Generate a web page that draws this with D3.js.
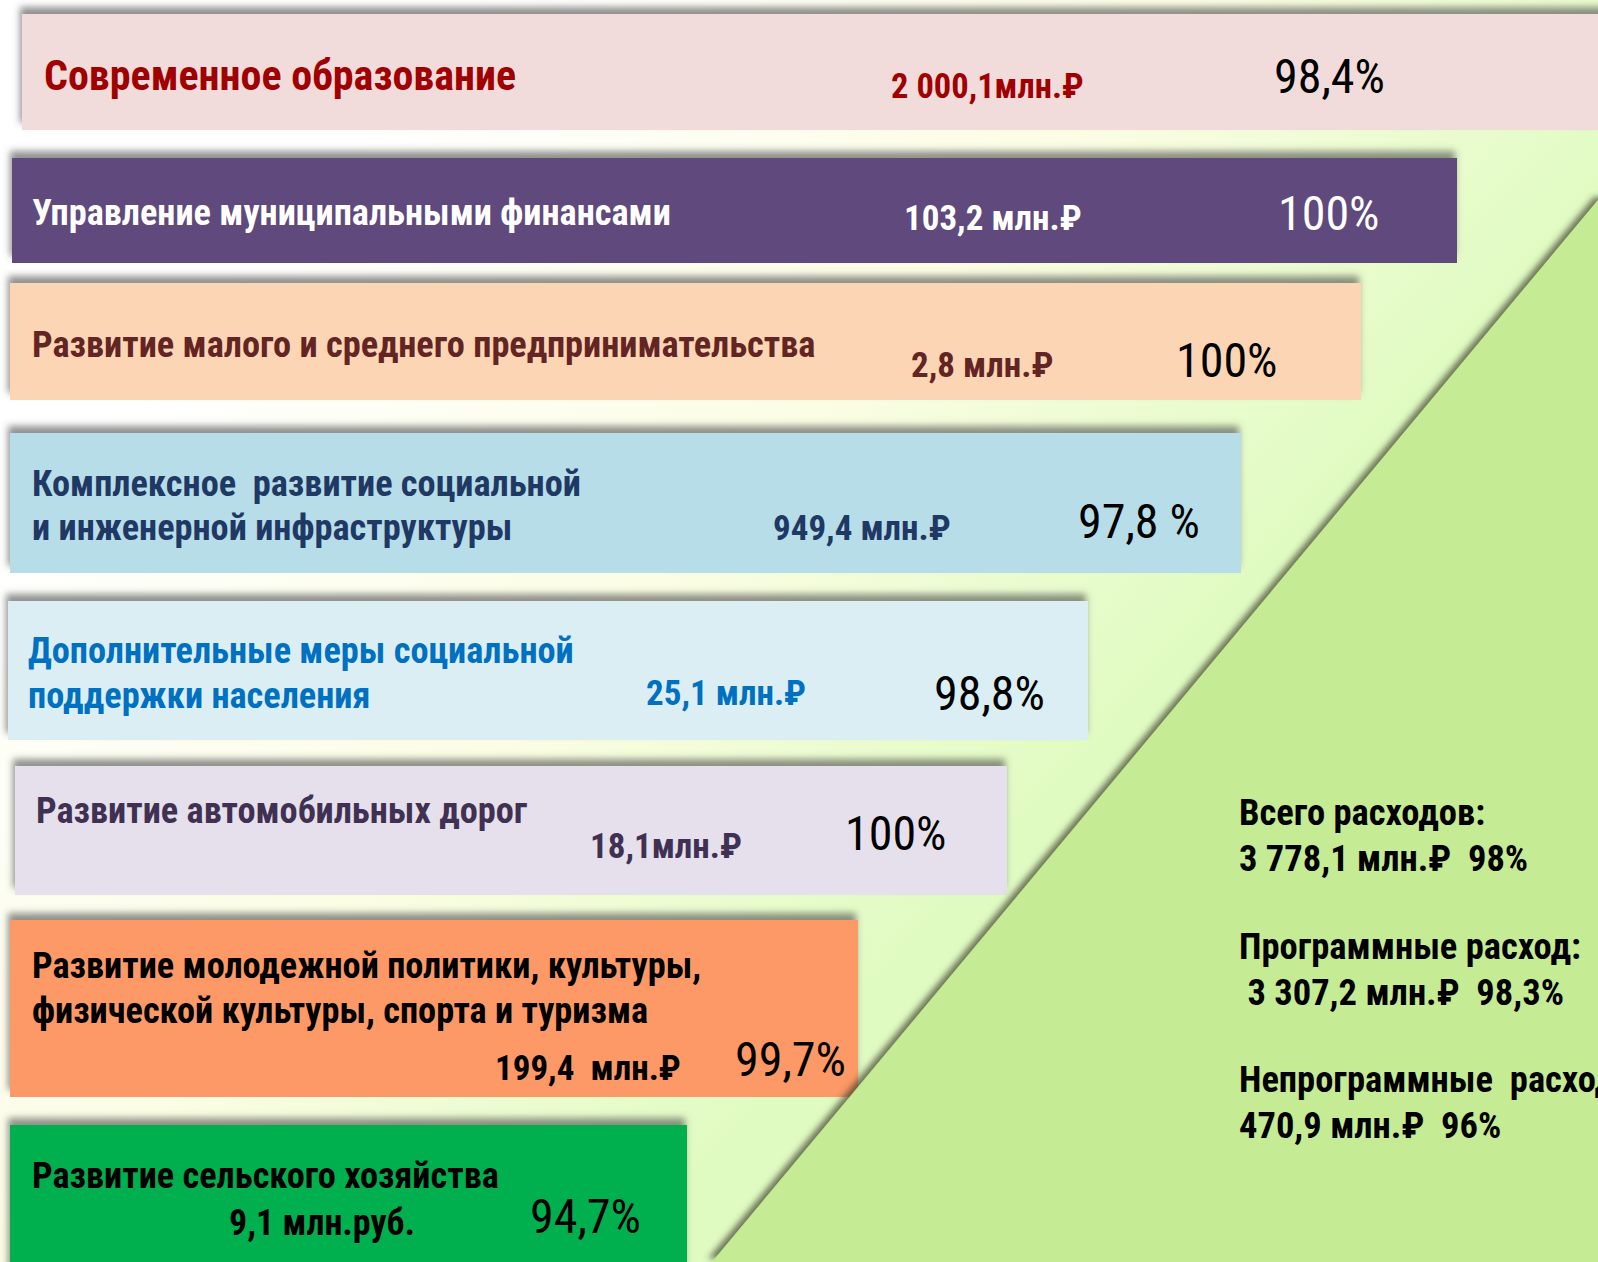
<!DOCTYPE html>
<html lang="ru">
<head>
<meta charset="utf-8">
<script src="https://cdn.jsdelivr.net/npm/d3@7"></script>
<style>
  html, body { margin: 0; padding: 0; background: #fff; overflow: hidden; }
  svg { display: block; }
  text { white-space: pre; }
</style>
</head>
<body>
<div id="chart"></div>
<script>
// programmes, amounts (mln rub) and execution (%)
const programs = [
    ["Современное образование"],
    ["Управление муниципальными финансами"],
    ["Развитие малого и среднего предпринимательства"],
    ["Комплексное  развитие социальной", "и инженерной инфраструктуры"],
    ["Дополнительные меры социальной", "поддержки населения"],
    ["Развитие автомобильных дорог"],
    ["Развитие молодежной политики, культуры,", "физической культуры, спорта и туризма"],
    ["Развитие сельского хозяйства"]
];
const amounts = [2000.1, 103.2, 2.8, 949.4, 25.1, 18.1, 199.4, 9.1];
const amountUnits = ["млн.₽", " млн.₽", " млн.₽", " млн.₽", " млн.₽", "млн.₽", "  млн.₽", " млн.руб."];
const execution = [98.4, 100, 100, 97.8, 98.8, 100, 99.7, 94.7];
const pctSuffix = ["%", "%", "%", " %", "%", "%", "%", "%"];

// totals block
const summaryTitles = ["Всего расходов:", "Программные расход:", "Непрограммные  расходы:"];
const summaryAmounts = [3778.1, 3307.2, 470.9];
const summaryPcts = [98, 98.3, 96];
const summaryIndent = ["", " ", ""];

// look of each bar (colours + layout of the funnel)
const fills = ["#f2dcdb", "#604a7b", "#fcd5b5", "#b7dde8", "#dbeef4", "#e5e0ec", "#fd9966", "#00b050"];
const inks = ["#a00000", "#ffffff", "#632523", "#1f3864", "#0070c0", "#403152", "#000000", "#000000"];
const pctInks = ["#000", "#fff", "#000", "#000", "#000", "#000", "#000", "#000"];
const layout = [
    { box: [22, 14, 1640, 130],  lx: 44, lb: [90],        ax: 891, ab: 98,   px: 1274, pb: 93,   ls: 42,   as: 34.5 },
    { box: [12, 158, 1457, 263], lx: 32, lb: [225],       ax: 904, ab: 230,  px: 1278, pb: 230,  ls: 36.3, as: 35 },
    { box: [10, 283, 1361, 400], lx: 32, lb: [357],       ax: 911, ab: 377,  px: 1176, pb: 377,  ls: 36.3, as: 35 },
    { box: [10, 433, 1241, 573], lx: 32, lb: [496, 540],  ax: 773, ab: 540,  px: 1078, pb: 538,  ls: 36.3, as: 35 },
    { box: [8, 601, 1088, 740],  lx: 28, lb: [663, 708],  ax: 646, ab: 705,  px: 934,  pb: 710,  ls: 36.3, as: 35 },
    { box: [15, 766, 1007, 895], lx: 36, lb: [823],       ax: 590, ab: 858,  px: 845,  pb: 850,  ls: 36.3, as: 35 },
    { box: [10, 920, 858, 1097], lx: 32, lb: [978, 1023], ax: 495, ab: 1080, px: 735,  pb: 1076, ls: 36.3, as: 35 },
    { box: [10, 1125, 687, 1290], lx: 32, lb: [1188],     ax: 229, ab: 1235, px: 530,  pb: 1233, ls: 36.3, as: 36 }
];

const width = 1598, height = 1262;
const FONT = "'Liberation Sans Narrow', 'Arial Narrow', 'Roboto Condensed', sans-serif";

const ru = d3.formatLocale({ decimal: ",", thousands: "\u00a0", grouping: [3], currency: ["", "₽"] });
const fmtAmount = ru.format(",.1f");
const fmtPct = ru.format(",.1~f");

const svg = d3.select("#chart").append("svg")
    .attr("width", width)
    .attr("height", height);

const defs = svg.append("defs");

const bg = defs.append("linearGradient")
    .attr("id", "bg")
    .attr("gradientUnits", "userSpaceOnUse")
    .attr("x1", 250).attr("y1", 250).attr("x2", 950).attr("y2", 900);
bg.append("stop").attr("offset", 0).attr("stop-color", "#ffffff");
bg.append("stop").attr("offset", 0.55).attr("stop-color", "#fbfde4");
bg.append("stop").attr("offset", 1).attr("stop-color", "#e0fbc2");

defs.append("filter")
    .attr("id", "barShadow")
    .attr("x", "-5%").attr("y", "-30%").attr("width", "110%").attr("height", "160%")
    .append("feDropShadow")
    .attr("dx", -2).attr("dy", -7).attr("stdDeviation", 3.5)
    .attr("flood-color", "#4a4a4a").attr("flood-opacity", 0.6);

defs.append("filter")
    .attr("id", "triShadow")
    .attr("x", "-10%").attr("y", "-10%").attr("width", "120%").attr("height", "120%")
    .append("feDropShadow")
    .attr("dx", -4).attr("dy", -3).attr("stdDeviation", 3)
    .attr("flood-color", "#3a3a2a").attr("flood-opacity", 0.7);

svg.append("rect")
    .attr("width", width).attr("height", height)
    .attr("fill", "url(#bg)");

// bars
const rows = svg.append("g")
    .selectAll("g")
    .data(programs.map((p, i) => ({ i, lines: p, amount: amounts[i], pct: execution[i] })))
    .join("g");

rows.append("rect")
    .attr("x", d => layout[d.i].box[0])
    .attr("y", d => layout[d.i].box[1])
    .attr("width", d => layout[d.i].box[2] - layout[d.i].box[0])
    .attr("height", d => layout[d.i].box[3] - layout[d.i].box[1])
    .attr("fill", d => fills[d.i])
    .attr("filter", "url(#barShadow)");

// green wedge on the right
const wedge = d3.line();
svg.append("path")
    .attr("d", wedge([[1598, 200], [712, 1262], [1620, 1262], [1620, 200]]) + "Z")
    .attr("fill", "#c5eb95")
    .attr("filter", "url(#triShadow)");

// programme names
rows.append("text")
    .attr("font-family", FONT)
    .attr("font-weight", "bold")
    .attr("font-size", d => layout[d.i].ls)
    .attr("fill", d => inks[d.i])
    .selectAll("tspan")
    .data(d => d.lines.map((t, k) => ({ t, x: layout[d.i].lx, y: layout[d.i].lb[k] })))
    .join("tspan")
    .attr("x", d => d.x)
    .attr("y", d => d.y)
    .text(d => d.t);

// amounts
rows.append("text")
    .attr("x", d => layout[d.i].ax)
    .attr("y", d => layout[d.i].ab)
    .attr("font-family", FONT)
    .attr("font-weight", "bold")
    .attr("font-size", d => layout[d.i].as)
    .attr("fill", d => inks[d.i])
    .text(d => fmtAmount(d.amount) + amountUnits[d.i]);

// execution percent
rows.append("text")
    .attr("x", d => layout[d.i].px)
    .attr("y", d => layout[d.i].pb)
    .attr("font-family", FONT)
    .attr("font-size", 48)
    .attr("fill", d => pctInks[d.i])
    .text(d => fmtPct(d.pct) + pctSuffix[d.i]);

// totals block (last title runs off the right edge, as on the slide)
const summary = svg.append("g")
    .attr("font-family", FONT)
    .attr("font-weight", "bold")
    .attr("font-size", 36.5)
    .attr("fill", "#000");

const sy = d3.scalePoint().domain(d3.range(summaryTitles.length)).range([825, 1092]);

summaryTitles.forEach((title, i) => {
    summary.append("text")
        .attr("x", 1239)
        .attr("y", sy(i))
        .text(title);
    summary.append("text")
        .attr("x", 1239)
        .attr("y", sy(i) + 46)
        .text(summaryIndent[i] + fmtAmount(summaryAmounts[i]) + " млн.₽  " + fmtPct(summaryPcts[i]) + "%");
});
</script>
</body>
</html>
